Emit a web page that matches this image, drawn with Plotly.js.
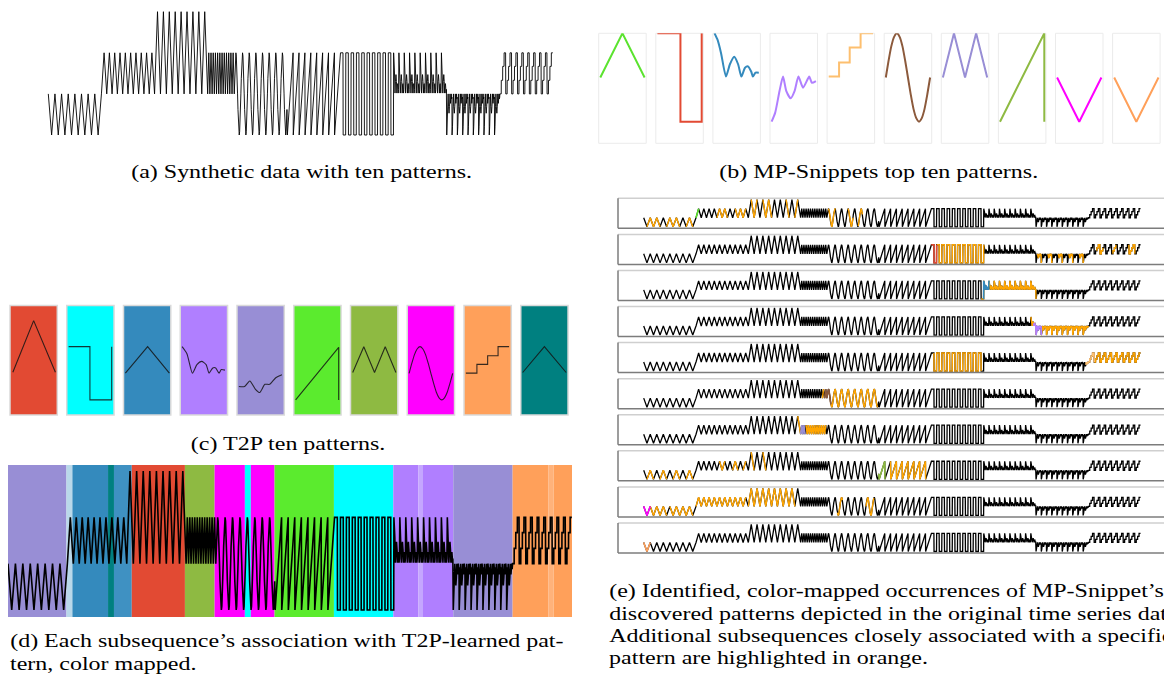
<!DOCTYPE html>
<html><head><meta charset="utf-8">
<script src="https://cdn.plot.ly/plotly-3.0.1.min.js"></script>
<style>html,body{margin:0;padding:0;background:#fff}#chart{width:1164px;height:680px}</style>
</head><body><div id="chart"></div>
<script>
// ---------- synthetic series: ten segments, each a repeated pattern ----------
const segmentLength = [100, 100, 100, 50, 100, 100, 100, 100, 100, 100];
const segmentCycles = [8, 10, 9, 6, 8, 9, 10, 10, 10, 9];
const segmentLow    = [0, 1, 1, 1, 0, 0, 0, 1, 0, 1];
const segmentHigh   = [1, 2, 3, 2, 2, 2, 2, 2, 1, 2];
const segmentShape  = ['vee', 'peak', 'peak', 'em', 'sine', 'ramp', 'square', 'fall', 'rise', 'stairs'];

// one cycle of each shape (phase inside the cycle, normalised value)
const shapePhase = {
  vee: [0, 0.5],
  peak: [0, 0.5],
  em: [0, 0.25, 0.5, 0.75],
  sine: [0, 0.0625, 0.125, 0.1875, 0.25, 0.3125, 0.375, 0.4375, 0.5, 0.5625, 0.625, 0.6875, 0.75, 0.8125, 0.875, 0.9375],
  ramp: [0, 0.97],
  square: [0, 0.47, 0.5, 0.97],
  fall: [0, 0.15, 0.26, 0.35, 0.44, 0.53, 0.61, 0.69, 0.76, 0.83, 0.87, 0.93],
  rise: [0, 0.08, 0.18, 0.26, 0.33, 0.43, 0.52, 0.61, 0.71, 0.85, 0.91, 0.97],
  stairs: [0, 0.23, 0.24, 0.47, 0.48, 0.71, 0.72, 0.97]
};
const shapeValue = {
  vee: [1, 0],
  peak: [0, 1],
  em: [0, 1, 0, 1],
  sine: [0.5, 0.69, 0.85, 0.96, 1, 0.96, 0.85, 0.69, 0.5, 0.31, 0.15, 0.04, 0, 0.04, 0.15, 0.31],
  ramp: [0, 1],
  square: [1, 1, 0, 0],
  fall: [1, 0.58, 0.02, 0.3, 0.47, 0.3, 0.02, 0.22, 0.25, 0.13, 0.02, 0.11],
  rise: [0, 0.2, 0.7, 1, 0.7, 0.53, 0.7, 1, 0.77, 1, 0.88, 0.92],
  stairs: [0, 0, 0.33, 0.33, 0.67, 0.67, 1, 1]
};

// ---------- (b) MP-Snippets top ten patterns ----------
const snipColors = ['#5be32f', '#e24a33', '#348abd', '#b07fff', '#fdbf6f', '#8c5a3c', '#988ed5', '#8eba42', '#ff00ff', '#ffa05a'];
const snipX = [
  [0, 0.5, 1],
  [0, 0.52, 0.52, 1, 1],
  [0, 0.07, 0.148, 0.259, 0.348, 0.444, 0.533, 0.607, 0.689, 0.756, 0.83, 0.867, 0.926, 1],
  [0, 0.08, 0.18, 0.258, 0.33, 0.43, 0.52, 0.606, 0.71, 0.85, 0.91, 1],
  [0, 0.234, 0.234, 0.474, 0.474, 0.72, 0.72, 1],
  [0, 0.0625, 0.125, 0.1875, 0.25, 0.3125, 0.375, 0.4375, 0.5, 0.5625, 0.625, 0.6875, 0.75, 0.8125, 0.875, 0.9375, 1],
  [0, 0.25, 0.5, 0.75, 1],
  [0, 1, 1],
  [0, 0.5, 1],
  [0, 0.5, 1]
];
const snipY = [
  [1, 2, 1],
  [2, 2, 0, 0, 2],
  [2, 1.85, 1.55, 1.02, 1.3, 1.47, 1.3, 1.02, 1.22, 1.25, 1.13, 1.02, 1.11, 1.11],
  [0, 0.2, 0.7, 1.02, 0.7, 0.53, 0.7, 1.02, 0.77, 1.02, 0.88, 0.92],
  [1.02, 1.02, 1.34, 1.34, 1.68, 1.68, 2, 2],
  [1, 1.38, 1.71, 1.92, 2, 1.92, 1.71, 1.38, 1, 0.62, 0.29, 0.08, 0, 0.08, 0.29, 0.62, 1],
  [1, 2, 1, 2, 1],
  [0, 2, 0],
  [1, 0, 1],
  [1, 0, 1]
];
const snipSmooth = [false, false, true, true, false, true, false, false, false, false];

// ---------- (c) T2P ten patterns ----------
const t2pColors = ['#e24a33', '#00ffff', '#348abd', '#b07fff', '#988ed5', '#5beb2e', '#8eba42', '#ff00ff', '#ffa05a', '#008080'];
const t2pX = [
  [0.06, 0.5, 0.96],
  [0.04, 0.49, 0.49, 0.95, 0.95],
  [0.04, 0.51, 0.97],
  [0.039, 0.141, 0.258, 0.352, 0.453, 0.547, 0.609, 0.688, 0.75, 0.82, 0.867, 0.945],
  [0.04, 0.16, 0.27, 0.39, 0.48, 0.59, 0.69, 0.82, 0.95],
  [0.04, 0.95, 0.95],
  [0.047, 0.281, 0.508, 0.734, 0.96],
  [0.04, 0.0975, 0.155, 0.2125, 0.27, 0.3275, 0.385, 0.4425, 0.5, 0.5575, 0.615, 0.6725, 0.73, 0.7875, 0.845, 0.9025, 0.96],
  [0.04, 0.273, 0.273, 0.5, 0.5, 0.72, 0.72, 0.953],
  [0.04, 0.5, 0.96]
];
const t2pY = [
  [0.39, 0.862, 0.39],
  [0.624, 0.624, 0.138, 0.138, 0.624],
  [0.382, 0.624, 0.382],
  [0.624, 0.56, 0.382, 0.46, 0.49, 0.46, 0.382, 0.43, 0.43, 0.382, 0.415, 0.41],
  [0.26, 0.26, 0.31, 0.235, 0.205, 0.28, 0.28, 0.34, 0.367],
  [0.138, 0.618, 0.138],
  [0.388, 0.624, 0.388, 0.624, 0.388],
  [0.381, 0.473, 0.554, 0.605, 0.624, 0.605, 0.554, 0.473, 0.381, 0.289, 0.208, 0.157, 0.138, 0.157, 0.208, 0.289, 0.381],
  [0.382, 0.382, 0.462, 0.462, 0.541, 0.541, 0.624, 0.624],
  [0.388, 0.624, 0.388]
];

// ---------- (d) colour-mapped association (intervals in samples) ----------
const assocStart = [0, 98.5, 108.5, 168.5, 178.5, 208.5, 298, 348, 399, 409, 449, 549, 649, 691, 699, 750, 850, 910, 919];
const assocEnd   = [98.5, 108.5, 168.5, 178.5, 208.5, 298, 348, 399, 409, 449, 549, 649, 691, 699, 750, 850, 910, 919, 950];
const assocColor = ['#988ed5', '#b9d8ea', '#348abd', '#008080', '#3f91c2', '#e24a33', '#8eba42', '#ff00ff', '#00ffff', '#ff00ff',
                    '#5beb2e', '#00ffff', '#b07fff', '#c5a6ff', '#b07fff', '#988ed5', '#ffa05a', '#ffb27a', '#ffa05a'];

// ---------- (e) occurrences per MP-Snippet (sample ranges) ----------
const occSnippetRange = [[99, 109], [549, 561], [649, 660], [745, 760], [845, 862], [344, 358], [298, 310], [449, 462], [0, 13], [0, 13]];
const occOrange = [
  [[6, 32], [43, 69], [81, 94], [140, 160], [175, 195], [205, 222], [227, 245], [270, 282], [286, 295], [353, 367], [390, 400], [410, 418]],
  [[545, 550], [560, 650], [752, 761], [772, 781], [792, 801], [812, 821], [832, 841], [865, 880], [895, 905], [925, 940]],
  [[645, 651], [660, 750]],
  [[740, 750], [760, 850]],
  [[551, 649], [861, 950]],
  [[340, 345], [357, 447]],
  [[293, 300], [310, 348]],
  [[6, 19], [31, 44], [56, 69], [81, 94], [145, 158], [169, 182], [189, 196], [205, 213], [226, 234], [253, 261], [273, 281], [462, 549]],
  [[12, 44], [50, 94], [100, 197], [200, 292], [370, 380], [425, 440]],
  []
];

// ---------- captions ----------
const captionA = '(a) Synthetic data with ten patterns.';
const captionB = '(b) MP-Snippets top ten patterns.';
const captionC = '(c) T2P ten patterns.';
const captionD = ['(d) Each subsequence\u2019s association with T2P-learned pat-', 'tern, color mapped.'];
const captionE = ['(e) Identified, color-mapped occurrences of MP-Snippet\u2019s', 'discovered patterns depicted in the original time series data.',
                  'Additional subsequences closely associated with a specific', 'pattern are highlighted in orange.'];

// ================= build =================
const W = 1164, H = 680;
const seriesX = [], seriesY = [];
(function () {
  let start = 0;
  for (let s = 0; s < segmentLength.length; s++) {
    const ph = shapePhase[segmentShape[s]], val = shapeValue[segmentShape[s]];
    const n = segmentCycles[s], L = segmentLength[s], lo = segmentLow[s], hi = segmentHigh[s];
    for (let c = 0; c < n; c++) for (let j = 0; j < ph.length; j++) {
      seriesX.push(start + (c + ph[j]) * L / n);
      seriesY.push(lo + val[j] * (hi - lo));
    }
    start += L;
  }
})();

const layout = {
  width: W, height: H, margin: {l: 0, r: 0, t: 0, b: 0},
  paper_bgcolor: '#ffffff', plot_bgcolor: 'rgba(0,0,0,0)', showlegend: false,
  shapes: [], annotations: []
};
const data = [];
let axN = 0;
// linear map of a pixel span onto data values given two anchors
function span(pLo, pHi, p0, v0, p1, v1) {
  const k = (v1 - v0) / (p1 - p0);
  return [v0 + (pLo - p0) * k, v0 + (pHi - p0) * k];
}
function addAxes(x0, x1, y0, y1, xr, yr) {
  axN++;
  const s = axN === 1 ? '' : String(axN);
  layout['xaxis' + s] = {domain: [x0 / W, x1 / W], range: xr, visible: false, fixedrange: true, anchor: 'y' + s};
  layout['yaxis' + s] = {domain: [1 - y1 / H, 1 - y0 / H], range: yr, visible: false, fixedrange: true, anchor: 'x' + s};
  return {x: 'x' + s, y: 'y' + s};
}
function line(ax, xs, ys, color, width, smooth) {
  data.push({type: 'scatter', mode: 'lines', x: xs, y: ys, xaxis: ax.x, yaxis: ax.y, hoverinfo: 'skip',
    line: {color: color, width: width, shape: smooth ? 'spline' : 'linear', smoothing: 0.6}});
}
function slice(r) {
  const xs = [], ys = [];
  for (let i = 0; i < seriesX.length; i++) if (seriesX[i] >= r[0] && seriesX[i] <= r[1]) { xs.push(seriesX[i]); ys.push(seriesY[i]); }
  return [xs, ys];
}
const fontCap = {family: 'Liberation Serif, Times New Roman, serif', size: 19.5, color: '#000'};
const captionStretch = 1.23;   // the reference glyphs are wider than they are tall
function caption(text, px, py, anchor) {
  layout.annotations.push({text: text, xref: 'paper', yref: 'paper', x: px / W, y: 1 - py / H,
    xanchor: anchor, yanchor: 'middle', showarrow: false, font: fontCap});
}

// (a)
const axA = addAxes(40, 562, 4, 141, span(40, 562, 48.3, 0, 553, 950), span(141, 4, 135, 0, 11.7, 3));
line(axA, seriesX, seriesY, '#000', 0.9);
caption(captionA, 301, 172, 'center');

// (b)
for (let i = 0; i < 10; i++) {
  const bx0 = 598.7 + 57.1 * i, bx1 = bx0 + 47.5, by0 = 33.3, by1 = 143.3;
  const ax = addAxes(bx0, bx1, by0, by1, span(bx0, bx1, bx0 + 1.6, 0, bx1 - 1.6, 1), span(by1, by0, 121.7, 0, 33.3, 2));
  layout.shapes.push({type: 'rect', xref: 'paper', yref: 'paper', x0: bx0 / W, x1: bx1 / W, y0: 1 - by1 / H, y1: 1 - by0 / H,
    line: {color: '#ebebeb', width: 1}, fillcolor: 'rgba(0,0,0,0)', layer: 'below'});
  line(ax, snipX[i], snipY[i], snipColors[i], 2, snipSmooth[i]);
}
caption(captionB, 878, 172, 'center');

// (c)
for (let i = 0; i < 10; i++) {
  const bx0 = 10 + 56.75 * i, bx1 = bx0 + 47.3, by0 = 305.5, by1 = 415;
  const ax = addAxes(bx0, bx1, by0, by1, [0, 1], [0, 1]);
  layout.shapes.push({type: 'rect', xref: 'paper', yref: 'paper', x0: bx0 / W, x1: bx1 / W, y0: 1 - by1 / H, y1: 1 - by0 / H,
    line: {color: '#dadada', width: 1.5}, fillcolor: t2pColors[i], layer: 'below'});
  line(ax, t2pX[i], t2pY[i], 'rgba(20,20,20,0.85)', 1.1, i === 3 || i === 4 || i === 7);
}
caption(captionC, 288, 444, 'center');

// (d)
const axD = addAxes(8, 572, 465, 617, [0, 950], span(617, 465, 610, 0, 471, 3));
for (let i = 0; i < assocStart.length; i++) {
  layout.shapes.push({type: 'rect', xref: axD.x, yref: axD.y + ' domain', x0: assocStart[i], x1: assocEnd[i], y0: 0, y1: 1,
    line: {width: 0}, fillcolor: assocColor[i], layer: 'below'});
}
line(axD, seriesX, seriesY, '#000', 1.6);
caption(captionD[0], 8, 641, 'left');
caption(captionD[1], 8, 663, 'left');

// (e)
for (let k = 0; k < 10; k++) {
  const t = 198.3 + 36.08 * k, b = t + 30;
  const ax = addAxes(618, 1164, t, b, span(618, 1164, 643.7, 0, 1140.7, 950), span(b, t, t + 28.5, 0, t + 1.3, 3));
  line(ax, seriesX, seriesY, '#000', 1.3);
  occOrange[k].forEach(r => { const s = slice(r); line(ax, s[0], s[1], '#ffa500', 1.4); });
  const sn = slice(occSnippetRange[k]);
  line(ax, sn[0], sn[1], snipColors[k], 1.6);
  layout.shapes.push({type: 'line', xref: 'paper', yref: 'paper', x0: 618 / W, x1: 1, y0: 1 - t / H, y1: 1 - t / H, line: {color: '#cfcfcf', width: 1.5}});
  layout.shapes.push({type: 'line', xref: 'paper', yref: 'paper', x0: 618 / W, x1: 1, y0: 1 - b / H, y1: 1 - b / H, line: {color: '#7c7c7c', width: 1.5}});
  layout.shapes.push({type: 'line', xref: 'paper', yref: 'paper', x0: 618 / W, x1: 618 / W, y0: 1 - b / H, y1: 1 - t / H, line: {color: '#7c7c7c', width: 1.5}});
}
captionE.forEach((txt, i) => caption(txt, 607, 591 + 22 * i, 'left'));

Plotly.newPlot('chart', data, layout, {displayModeBar: false, staticPlot: true}).then(gd => {
  // widen caption glyphs horizontally around their anchor, keeping them as real text
  gd.querySelectorAll('g.annotation').forEach(g => {
    const idx = +g.getAttribute('data-index');
    const t = g.querySelector('text.annotation-text');
    const ann = layout.annotations[idx];
    if (!t || !ann) return;
    const bb = t.getBBox();
    const x0 = ann.xanchor === 'left' ? bb.x : bb.x + bb.width / 2;
    const prev = t.getAttribute('transform') || '';
    t.setAttribute('transform', prev + ' translate(' + x0 + ',0) scale(' + captionStretch + ',1) translate(' + (-x0) + ',0)');
  });
});
</script>
</body></html>
